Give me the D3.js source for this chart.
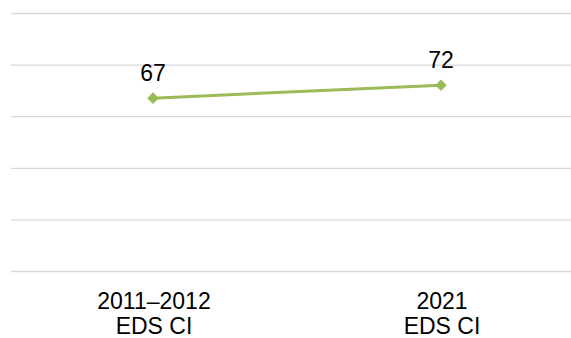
<!DOCTYPE html>
<html><head><meta charset="utf-8">
<script src="https://cdn.jsdelivr.net/npm/d3@7"></script>
<style>body{margin:0;background:#fff}svg{display:block}</style>
</head><body>
<script>
const categories = [["2011–2012","EDS CI"],["2021","EDS CI"]];
const values = [67, 72];
const yTicks = [0,20,40,60,80,100];

const W = 571, H = 338;
const svg = d3.select("body").append("svg").attr("width", W).attr("height", H);
const font = "'Liberation Sans', Arial, sans-serif";

const x = d3.scaleBand().domain(d3.range(categories.length)).range([9, 585]);
const y = d3.scaleLinear().domain([0, 100]).range([271, 13]);

const grid = d3.axisLeft(y).tickValues(yTicks).tickSize(-(571 - 11)).tickFormat("");
const g = svg.append("g").attr("transform", "translate(11,0)").call(grid);
g.select(".domain").remove();
g.selectAll("line").attr("stroke", "#d9d9d9").attr("stroke-width", 1.3);

const cx = i => x(i) + x.bandwidth() / 2;

svg.append("path").datum(values)
  .attr("fill", "none").attr("stroke", "#9bbb59").attr("stroke-width", 3)
  .attr("d", d3.line().x((d, i) => cx(i)).y(d => y(d)));

svg.selectAll(".mk").data(values).enter().append("path")
  .attr("d", d3.symbol().type(d3.symbolDiamond2).size(85))
  .attr("transform", (d, i) => `translate(${cx(i)},${y(d)})`)
  .attr("fill", "#9bbb59");

svg.selectAll(".lbl").data(values).enter().append("text")
  .attr("x", (d, i) => cx(i)).attr("y", d => y(d) - 17)
  .attr("text-anchor", "middle").attr("font-family", font).attr("font-size", 23)
  .attr("fill", "#000").text(d => d);

categories.forEach((lines, i) => {
  lines.forEach((t, j) => {
    svg.append("text").attr("x", cx(i) + 1).attr("y", 308.5 + j * 25)
      .attr("text-anchor", "middle").attr("font-family", font).attr("font-size", 23)
      .attr("fill", "#000").text(t);
  });
});
</script>
</body></html>
